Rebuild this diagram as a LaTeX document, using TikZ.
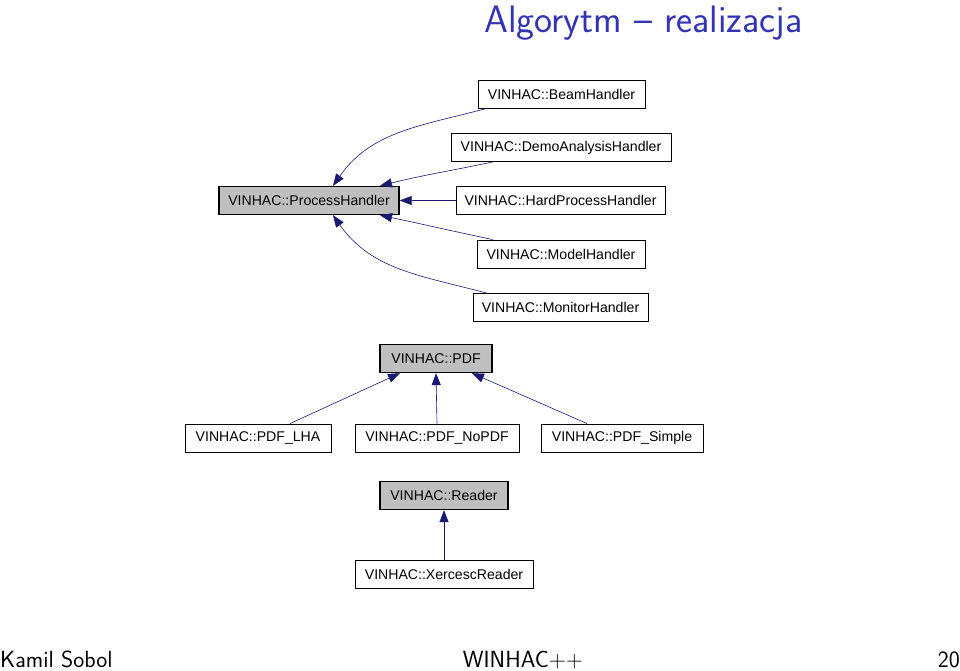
\documentclass[tikz,border=0pt]{standalone}
\usepackage{fontspec}
\newfontfamily\dox{Liberation Sans}
\usetikzlibrary{arrows.meta}
\definecolor{titleblue}{RGB}{51,51,179}
\definecolor{midnight}{RGB}{25,25,112}
\definecolor{boxgray}{RGB}{191,191,191}
\tikzset{
  cls/.style={draw=black, line width=0.9pt, fill=white, inner sep=0pt, minimum height=28pt,
    font=\dox\fontsize{14.1}{16}\selectfont},
  base/.style={cls, fill=boxgray, line width=1.3pt},
  inh/.style={draw=midnight, line width=0.6pt, -{Triangle[length=12pt,width=9pt]}},
}
\begin{document}
\begin{tikzpicture}[x=1pt,y=1pt]
\useasboundingbox (0,0) rectangle (960,-670);
% title and footer
\node[anchor=base west, inner sep=0, text=titleblue, font=\sffamily\fontsize{38.3}{40}\selectfont] (title) at (484,-32) {Algorytm -- realizacja};
\node[anchor=base west, inner sep=0, font=\sffamily\fontsize{23.4}{25}\selectfont] (auth) at (0,-667) {Kamil Sobol};
\node[anchor=base, inner sep=0, font=\sffamily\fontsize{23.4}{25}\selectfont] (prog) at (523,-667) {WINHAC++};
\node[anchor=base east, inner sep=0, font=\sffamily\fontsize{23.4}{25}\selectfont] (page) at (960,-667) {20};
% process handler group
\node[base, minimum width=180pt] (ph) at (309,-200.5) {VINHAC::ProcessHandler};
\node[cls, minimum width=167pt] (beam) at (561.5,-94) {VINHAC::BeamHandler};
\node[cls, minimum width=220pt] (demo) at (561,-147.5) {VINHAC::DemoAnalysisHandler};
\node[cls, minimum width=209pt] (hard) at (560.5,-200.5) {VINHAC::HardProcessHandler};
\node[cls, minimum width=168pt] (model) at (561,-254) {VINHAC::ModelHandler};
\node[cls, minimum width=175pt] (mon) at (560.5,-307.5) {VINHAC::MonitorHandler};
\draw[inh] ([xshift=9pt]beam.south west) to[out=195,in=55] ([xshift=24pt]ph.north);
\draw[inh] ([xshift=42pt]demo.south west) to[out=192,in=14] ([xshift=71pt]ph.north);
\draw[inh] (hard.west) -- (ph.east);
\draw[inh] ([xshift=16pt]model.north west) to[out=168,in=-12] ([xshift=71pt]ph.south);
\draw[inh] ([xshift=14pt]mon.north west) to[out=165,in=-55] ([xshift=24pt]ph.south);
% PDF group
\node[base, minimum width=112pt] (pdf) at (436,-358.5) {VINHAC::PDF};
\node[cls, minimum width=146pt] (lha) at (258,-438) {VINHAC::PDF\_LHA};
\node[cls, minimum width=164pt] (nopdf) at (437,-438) {VINHAC::PDF\_NoPDF};
\node[cls, minimum width=162pt] (simple) at (622,-438) {VINHAC::PDF\_Simple};
\draw[inh] ([xshift=32pt]lha.north) -- ([xshift=-36pt]pdf.south);
\draw[inh] (nopdf.north) -- (pdf.south);
\draw[inh] ([xshift=-35pt]simple.north) -- ([xshift=36pt]pdf.south);
% Reader group
\node[base, minimum width=128pt] (reader) at (444,-495.5) {VINHAC::Reader};
\node[cls, minimum width=178pt] (xer) at (444,-574.5) {VINHAC::XercescReader};
\draw[inh] (xer.north) -- (reader.south);
\end{tikzpicture}
\end{document}
